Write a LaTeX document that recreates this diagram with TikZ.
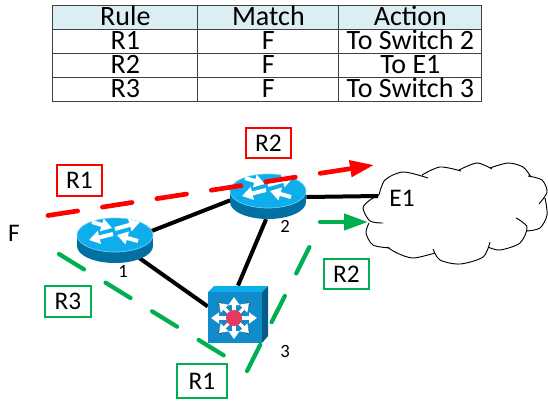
\documentclass[tikz,border=0pt]{standalone}
\usepackage{fontspec}
\setmainfont{Carlito}
\usetikzlibrary{arrows.meta,shapes.geometric}
\definecolor{headblue}{RGB}{218,238,243}
\definecolor{flowred}{RGB}{255,0,0}
\definecolor{flowgreen}{RGB}{0,176,80}
\definecolor{iconlight}{RGB}{14,174,236}
\definecolor{icondark}{RGB}{2,112,163}
\definecolor{iconface}{RGB}{16,140,203}
\definecolor{iconside}{RGB}{6,92,136}
\definecolor{iconred}{RGB}{230,57,95}
\tikzset{
  cell/.style={draw=black!75,line width=.9pt,inner sep=0pt,minimum width=#1,minimum height=18pt,
    text height=13.5pt,text depth=2.5pt,font=\fontsize{21}{21}\selectfont},
  rulebox/.style={cell=108.75pt},
  matchbox/.style={cell=105.75pt},
  actionbox/.style={cell=107.25pt},
  head/.style={fill=headblue},
  link/.style={draw=black,line width=3pt},
  redflow/.style={draw=flowred,line width=3.5pt,line cap=round,dash pattern=on 22.5pt off 18.8pt},
  greenflow/.style={draw=flowgreen,line width=3.2pt,line cap=round,dash pattern=on 22pt off 19pt},
  redtag/.style={draw=flowred,line width=1.5pt,inner sep=0pt,minimum width=34pt,minimum height=23pt,font=\fontsize{19}{20}\selectfont},
  greentag/.style={draw=flowgreen,line width=1.5pt,inner sep=0pt,minimum width=34pt,minimum height=23pt,font=\fontsize{19}{20}\selectfont},
  routernode/.style={ellipse,minimum width=57pt,minimum height=33pt,inner sep=0pt},
  switchnode/.style={rectangle,minimum width=45pt,minimum height=43pt,inner sep=0pt},
  num/.style={inner sep=0pt,font=\fontsize{14}{15}\selectfont},
  plain/.style={inner sep=0pt,font=\fontsize{19}{20}\selectfont},
  flick/.style={draw=white,line width=3pt,-{Triangle[length=8pt,width=9.5pt]}},
  ray/.style={draw=white,line width=2.4pt,-{Triangle[length=6pt,width=8pt]}},
  pics/router/.style={code={
    \fill[icondark] (-38,0) rectangle (38,11);
    \fill[icondark] (0,11) ellipse (38 and 17);
    \draw[fill=iconlight,draw=iconlight!60!white,line width=.5pt] (0,0) ellipse (38 and 17);
    \draw[flick] (-23,-13) -- (-3,-7);
    \draw[flick] (0,-6) -- (25,-13);
    \draw[flick] (-2,-1) -- (-26,5);
    \draw[flick] (23,6) -- (2,0);
  }},
  pics/multilayer/.style={code={
    \fill[iconlight] (-30,-26) -- (-24,-32) -- (30,-32) -- (24,-26) -- cycle;
    \fill[iconside] (24,-26) -- (30,-32) -- (30,18) -- (24,25) -- cycle;
    \fill[iconface] (-30,-26) rectangle (24,25);
    \foreach \dx/\dy in {-15/-15,15/-15,-15/15,15/15}
      \draw[black!70,line width=3pt] (-4,0) -- ++(\dx,\dy);
    \foreach \dx/\dy in {23/0,-23/0,0/21,0/-21,15/15,-15/15,15/-15,-15/-15}
      \draw[ray] (-4,0) -- ++(\dx,\dy);
    \fill[iconred] (-4,0) circle (8);
  }}
}
\begin{document}
\begin{tikzpicture}[x=.75pt,y=-.75pt]
  \useasboundingbox (0,0) rectangle (548,401);
  \matrix[anchor=north west,inner sep=0pt,row sep=-.9pt,column sep=-.9pt] at (52,5)
  {
    \node[rulebox,head](rulehead) {Rule}; & \node[matchbox,head](matchhead) {Match}; & \node[actionbox,head](actionhead) {Action}; \\
    \node[rulebox](ruleone) {R1}; & \node[matchbox](matchone) {F}; & \node[actionbox](actionone) {To Switch 2}; \\
    \node[rulebox](ruletwo) {R2}; & \node[matchbox](matchtwo) {F}; & \node[actionbox](actiontwo) {To E1}; \\
    \node[rulebox](rulethree) {R3}; & \node[matchbox](matchthree) {F}; & \node[actionbox](actionthree) {To Switch 3}; \\
  };
  \node[routernode](sw1) at (115,241) {};
  \node[routernode](sw2) at (268,197) {};
  \node[switchnode](sw3) at (238,314.5) {};
  \coordinate (cloudport) at (378,196);
  \draw[link] (sw1.15) -- (sw2.185);
  \draw[link] (sw1.-35) -- (sw3.165);
  \draw[link] (sw2.-95) -- (sw3.north);
  \draw[link] (sw2.east) -- (cloudport);
  \pic at (115,235) {router};
  \pic at (268,191) {router};
  \pic at (238,318) {multilayer};
  \draw[black,line width=.7pt]
    plot[smooth] coordinates {(383,223) (370,221) (363,208) (370,200) (379,195)}
    plot[smooth] coordinates {(379,195) (385,180) (403,172) (428,178)}
    plot[smooth] coordinates {(422,175) (440,167) (461,171)}
    plot[smooth] coordinates {(459,170) (477,163) (492,169)}
    plot[smooth] coordinates {(490,168) (508,163) (523,167) (531,177)}
    plot[smooth] coordinates {(528,176) (542,180) (547,192) (539,204)}
    plot[smooth] coordinates {(545,198) (547,215) (540,228) (527,231)}
    plot[smooth] coordinates {(516,218) (527,227) (520,243) (500,250) (488,247)}
    plot[smooth] coordinates {(490,242) (483,257) (460,264) (440,260) (433,249)}
    plot[smooth] coordinates {(435,253) (413,258) (397,253) (387,247)}
    plot[smooth] coordinates {(390,248) (373,245) (366,233) (369,223)};
  \node[plain](e1) at (402,198) {E1};
  \node[plain](flow) at (14,233) {F};
  \node[num](n1) at (123,271) {1};
  \node[num](n2) at (285,226) {2};
  \node[num](n3) at (285,351) {3};
  \node[redtag](redone) at (79.5,180.5) {R1};
  \node[redtag](redtwo) at (268.5,143) {R2};
  \node[greentag](greenthree) at (68,301.5) {R3};
  \node[greentag,minimum width=37pt,minimum height=25pt](greenone) at (202,381) {R1};
  \node[greentag](greentwo) at (346.5,274) {R2};
  \coordinate (redstart) at (48,215.5);
  \coordinate (redend) at (374,165);
  \coordinate (greena) at (59,254);
  \coordinate (greenb) at (228,358);
  \coordinate (greenc) at (247,371);
  \coordinate (greend) at (312,242);
  \coordinate (greene) at (320,222);
  \coordinate (greenf) at (368,222);
  \draw[redflow,-{Triangle[length=18pt,width=12pt]}] (redstart) -- (redend);
  \draw[greenflow] (greena) -- (greenb);
  \draw[greenflow] (greenc) -- (greend);
  \draw[greenflow,solid,-{Triangle[length=18pt,width=12pt]}] (greene) -- (greenf);
\end{tikzpicture}
\end{document}
